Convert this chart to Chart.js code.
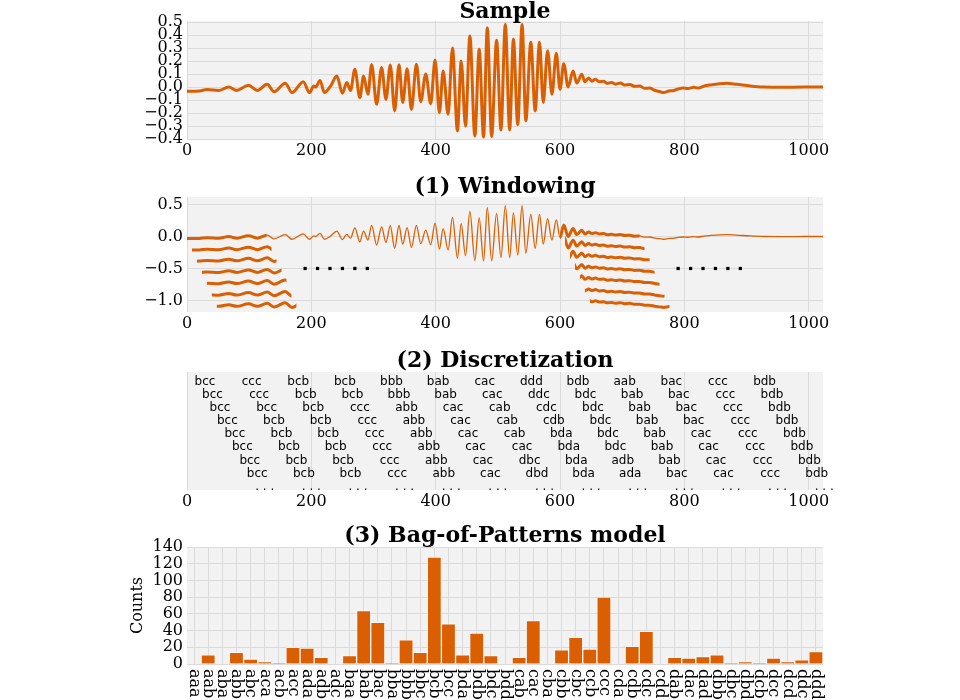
<!DOCTYPE html>
<html lang="en">
<head>
<meta charset="UTF-8">
<title>Bag-of-Patterns</title>
<script src="https://cdn.jsdelivr.net/npm/chart.js"></script>
<style>
  body { margin: 0; background: #fff; width: 960px; height: 700px; position: relative; overflow: hidden; }
  canvas { position: absolute; left: 0; z-index: 1; }
  .title { position: absolute; left: 187px; width: 636px; text-align: center; z-index: 2;
           font: bold 22px "DejaVu Serif", serif; line-height: 24px; color: #000; }
</style>
</head>
<body>
<div class="title" style="top:-2px">Sample</div>
<div class="title" style="top:173px">(1) Windowing</div>
<div class="title" style="top:347px">(2) Discretization</div>
<div class="title" style="top:522px">(3) Bag-of-Patterns model</div>
<canvas id="sample" width="960" height="165" style="top:0px"></canvas>
<canvas id="windowing" width="960" height="175" style="top:165px"></canvas>
<canvas id="discret" width="960" height="175" style="top:340px"></canvas>
<canvas id="bop" width="960" height="185" style="top:515px"></canvas>
<script>
// signal (local peaks / troughs)
const sigX = [0, 20, 32, 51, 67, 80, 99, 113, 129, 140, 158, 169, 187, 197, 204, 207, 214, 221, 231, 241,
  250, 257, 263, 270, 278, 284, 291, 297, 305, 313, 320, 327, 334, 341, 347, 354, 361, 369, 376, 384,
  392, 399, 406, 412, 420, 427, 435, 441, 448, 455, 463, 470, 477, 483, 490, 498, 505, 512, 519, 525,
  532, 539, 545, 553, 560, 567, 573, 580, 587, 594, 600, 606, 613, 621, 627, 635, 640, 646, 651, 657,
  663, 670, 676, 683, 689, 697, 704, 712, 720, 728, 736, 744, 752, 760, 767, 775, 782, 790, 798, 806,
  815, 822, 831, 842, 857, 868, 884, 906, 927, 960, 992, 1023];
const sigY = [-0.032, -0.03, -0.02, -0.027, 0.0, -0.026, 0.013, -0.026, 0.021, -0.036, 0.029, -0.043, 0.041, -0.043, 0.008, 0.0, 0.05, -0.043, 0.008, 0.085,
  -0.048, 0.034, -0.026, 0.136, -0.082, 0.085, -0.056, 0.174, -0.133, 0.15, -0.095, 0.17, -0.184, 0.172, -0.12, 0.14, -0.172, 0.175, -0.113, 0.1,
  -0.128, 0.208, -0.197, 0.123, -0.21, 0.3, -0.338, 0.2, -0.3, 0.392, -0.377, 0.29, -0.385, 0.456, -0.38, 0.36, -0.33, 0.482, -0.33, 0.367,
  -0.29, 0.482, -0.26, 0.345, -0.184, 0.345, -0.12, 0.28, -0.056, 0.26, -0.018, 0.18, 0.0, 0.123, 0.03, 0.098, 0.04, 0.07, 0.045, 0.06,
  0.04, 0.045, 0.028, 0.035, 0.022, 0.03, 0.015, 0.02, 0.005, 0.008, -0.01, -0.008, -0.025, -0.035, -0.043, -0.03, -0.028, -0.015, -0.008, -0.012,
  -0.002, -0.008, 0.006, 0.016, 0.026, 0.029, 0.021, 0.008, 0.0, -0.002, 0.0, 0.0];

const xTicks = [0, 200, 400, 600, 800, 1000];
const sampleTicks = [-0.4, -0.3, -0.2, -0.1, 0.0, 0.1, 0.2, 0.3, 0.4, 0.5];
const windowTicks = [-1.0, -0.5, 0.0, 0.5];

// sliding windows shown in panel (1)
const winStarts  = [0, 8, 16, 24, 32, 40, 48, 600, 608, 616, 624, 632, 640, 648];
const winOffsets = [0, -0.18, -0.355, -0.535, -0.71, -0.89, -1.065, 0, -0.18, -0.355, -0.535, -0.71, -0.89, -1.065];
const winLength = 128;
const dotX = [190, 210, 230, 250, 270, 290, 790, 810, 830, 850, 870, 890];
const dotY = -0.5;

// words of panel (2)
const wordRows = [
  ['bcc','ccc','bcb','bcb','bbb','bab','cac','ddd','bdb','aab','bac','ccc','bdb'],
  ['bcc','ccc','bcb','bcb','bbb','bab','cac','ddc','bdc','bab','bac','ccc','bdb'],
  ['bcc','bcc','bcb','ccc','abb','cac','cab','cdc','bdc','bab','bac','ccc','bdb'],
  ['bcc','bcb','bcb','ccc','abb','cac','cab','cdb','bdc','bab','bac','ccc','bdb'],
  ['bcc','bcb','bcb','ccc','abb','cac','cab','bda','bdc','bab','cac','ccc','bdb'],
  ['bcc','bcb','bcb','ccc','abb','cac','cac','bda','bdc','bab','cac','ccc','bdb'],
  ['bcc','bcb','bcb','ccc','abb','cac','dbc','bda','adb','bab','cac','ccc','bdb'],
  ['bcc','bcb','bcb','ccc','abb','cac','dbd','bda','ada','bac','cac','ccc','bdb'],
  ['. . .','. . .','. . .','. . .','. . .','. . .','. . .','. . .','. . .','. . .','. . .','. . .','. . .']
];
const wordX0 = 29, wordStep = 75, rowShift = 12;

// panel (3)
const patterns = ['aaa','aab','aba','abb','abc','aca','acb','acc','ada','adb','adc','baa','bab','bac','bba',
  'bbb','bbc','bcb','bcc','bda','bdb','bdc','bdd','cab','cac','cba','cbb','cbc','ccb','ccc','cda','cdb',
  'cdc','cdd','dab','dac','dad','dbb','dbc','dbd','dcb','dcc','dcd','ddc','ddd'];
const counts = [0, 11, 0, 14, 6, 3, 1, 20, 19, 8, 0, 10, 64, 50, 1, 29, 14, 128, 48, 11, 37, 10, 0, 8, 52,
  0, 17, 32, 18, 80, 0, 21, 39, 0, 8, 7, 9, 11, 1, 3, 1, 7, 3, 5, 15];

const ORANGE = '#d95f02';
const BG = '#f2f2f2';
const GRID = '#dadada';
const tickFont = { family: 'DejaVu Serif', size: 16 };

const fmt1 = v => (v < 0 ? '\u2212' : '') + Math.abs(v).toFixed(1);

const bgPlugin = {
  id: 'areaBg',
  beforeDraw(chart) {
    const a = chart.chartArea, ctx = chart.ctx;
    ctx.save();
    ctx.fillStyle = BG;
    ctx.fillRect(a.left, a.top, a.right - a.left, a.bottom - a.top);
    ctx.restore();
  }
};

// clip a window dataset to its x range
const clipPlugin = {
  id: 'winClip',
  beforeDatasetDraw(chart, args) {
    const ds = chart.data.datasets[args.index];
    if (!ds.win) return;
    const xs = chart.scales.x, a = chart.chartArea, ctx = chart.ctx;
    const x0 = xs.getPixelForValue(ds.win[0]), x1 = xs.getPixelForValue(ds.win[1]);
    ctx.save();
    ctx.beginPath();
    ctx.rect(x0, a.top - 20, x1 - x0, a.bottom - a.top + 40);
    ctx.clip();
  },
  afterDatasetDraw(chart, args) {
    if (chart.data.datasets[args.index].win) chart.ctx.restore();
  }
};

function xAxis(height, showTicks) {
  return {
    type: 'linear', min: 0, max: 1023,
    afterBuildTicks: s => { s.ticks = xTicks.map(v => ({ value: v })); },
    afterFit: s => { s.height = height; },
    grid: { color: GRID, lineWidth: 1, drawTicks: false },
    border: { display: false },
    ticks: { display: showTicks, font: tickFont, color: '#000', padding: 2, autoSkip: false, maxRotation: 0,
             callback: v => String(v) }
  };
}

function yAxis(min, max, ticks) {
  return {
    min: min, max: max,
    afterBuildTicks: s => { s.ticks = ticks.map(v => ({ value: v })); },
    afterFit: s => { s.width = 187; },
    grid: { color: GRID, lineWidth: 1, drawTicks: false },
    border: { display: false },
    ticks: { font: tickFont, color: '#000', padding: 4, autoSkip: false, callback: fmt1 }
  };
}

const common = {
  responsive: false, animation: false, devicePixelRatio: 1,
  plugins: { legend: { display: false }, tooltip: { enabled: false } },
  elements: { point: { radius: 0 } }
};

const sigPoints = sigX.map((x, i) => ({ x: x, y: sigY[i] }));

// Sample
new Chart(document.getElementById('sample'), {
  type: 'line',
  data: { datasets: [{ data: sigPoints, borderColor: ORANGE, borderWidth: 3, cubicInterpolationMode: 'monotone', pointRadius: 0 }] },
  options: Object.assign({}, common, {
    layout: { padding: { top: 21, right: 137, left: 0, bottom: 0 } },
    scales: { x: xAxis(26, true), y: yAxis(-0.4, 0.508, sampleTicks) }
  }),
  plugins: [bgPlugin]
});

// Windowing
const winSets = winStarts.map((s, k) => ({
  data: sigX.map((x, i) => ({ x: x, y: sigY[i] + winOffsets[k] })),
  win: [s, s + winLength],
  borderColor: ORANGE, borderWidth: 3, cubicInterpolationMode: 'monotone', pointRadius: 0
}));
new Chart(document.getElementById('windowing'), {
  type: 'line',
  data: { datasets: [
    { data: sigPoints, borderColor: ORANGE, borderWidth: 1.3, cubicInterpolationMode: 'monotone', pointRadius: 0 },
    ...winSets,
    { data: dotX.map(x => ({ x: x, y: dotY })), showLine: false, pointStyle: 'rect', pointRadius: 2.3,
      backgroundColor: '#000', borderColor: '#000', borderWidth: 0 }
  ] },
  options: Object.assign({}, common, {
    layout: { padding: { top: 32, right: 137, left: 0, bottom: 0 } },
    scales: { x: xAxis(28, true), y: yAxis(-1.18, 0.617, windowTicks) }
  }),
  plugins: [bgPlugin, clipPlugin]
});

// Discretization
const wordsPlugin = {
  id: 'words',
  afterDatasetsDraw(chart) {
    const xs = chart.scales.x, ys = chart.scales.y, ctx = chart.ctx;
    ctx.save();
    ctx.fillStyle = '#000';
    ctx.font = '12px "DejaVu Sans"';
    ctx.textAlign = 'center';
    ctx.textBaseline = 'middle';
    wordRows.forEach((row, i) => {
      row.forEach((w, j) => {
        const x = xs.getPixelForValue(wordX0 + rowShift * i + wordStep * j);
        ctx.fillText(w, x, ys.getPixelForValue(i));
      });
    });
    ctx.restore();
  }
};
new Chart(document.getElementById('discret'), {
  type: 'scatter',
  data: { datasets: [{ data: [] }] },
  options: Object.assign({}, common, {
    layout: { padding: { top: 32, right: 137, left: 187, bottom: 0 } },
    scales: {
      x: xAxis(25, true),
      y: { display: false, reverse: true, min: -0.75, max: 8.26 }
    }
  }),
  plugins: [bgPlugin, wordsPlugin]
});

// Bag-of-Patterns
const rotLabels = {
  id: 'rotLabels',
  afterDraw(chart) {
    const xs = chart.scales.x, ctx = chart.ctx, a = chart.chartArea;
    ctx.save();
    ctx.fillStyle = '#000';
    ctx.font = '16px "DejaVu Serif"';
    ctx.textAlign = 'left';
    ctx.textBaseline = 'middle';
    patterns.forEach((p, i) => {
      ctx.save();
      ctx.translate(xs.getPixelForValue(i), a.bottom + 5);
      ctx.rotate(Math.PI / 2);
      ctx.fillText(p, 0, 0);
      ctx.restore();
    });
    ctx.restore();
  }
};
new Chart(document.getElementById('bop'), {
  type: 'bar',
  data: { labels: patterns, datasets: [{ data: counts, backgroundColor: ORANGE,
    borderColor: 'rgba(255,255,255,0.55)', borderWidth: 1, barPercentage: 1, categoryPercentage: 1 }] },
  options: Object.assign({}, common, {
    layout: { padding: { top: 32, right: 137, left: 124, bottom: 0 } },
    scales: {
      x: { offset: true, afterFit: s => { s.height = 36; },
           grid: { offset: false, color: GRID, lineWidth: 1, drawTicks: false },
           border: { display: false }, ticks: { display: false } },
      y: { min: 0, max: 140, afterFit: s => { s.width = 63; },
           grid: { color: GRID, lineWidth: 1, drawTicks: false }, border: { display: false },
           ticks: { stepSize: 20, font: tickFont, color: '#000', padding: 4, autoSkip: false },
           title: { display: true, text: 'Counts', font: tickFont, color: '#000', padding: 4 } }
    }
  }),
  plugins: [bgPlugin, rotLabels]
});
</script>
</body>
</html>
